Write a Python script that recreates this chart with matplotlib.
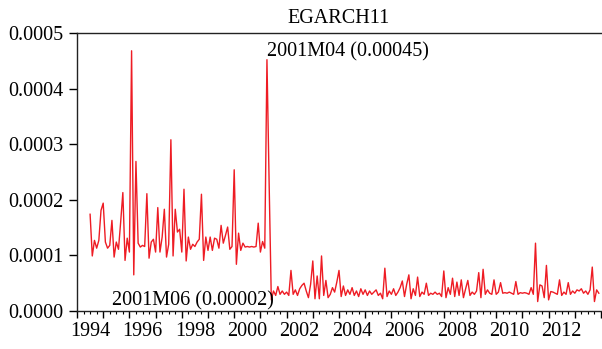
import numpy as np
import matplotlib
matplotlib.use("Agg")
import matplotlib.pyplot as plt
from matplotlib.ticker import FixedLocator, FormatStrFormatter

plt.rcParams["font.family"] = ["Liberation Serif", "DejaVu Serif"]

# monthly conditional variance, 1994M07 .. 2013M12 (units of 1e-4)
start_year, start_month = 1994, 7
egarch = [
    1.74, 0.99, 1.27, 1.13, 1.27, 1.81, 1.94, 1.24, 1.13, 1.18,
    1.63, 0.97, 1.24, 1.11, 1.60, 2.13, 0.91, 1.31, 1.06, 4.68,
    0.65, 2.69, 1.22, 1.15, 1.18, 1.16, 2.11, 0.95, 1.24, 1.29,
    1.06, 1.86, 1.06, 1.33, 1.83, 0.97, 1.20, 3.08, 0.99, 1.83,
    1.42, 1.47, 1.06, 2.19, 0.90, 1.33, 1.11, 1.20, 1.16, 1.24,
    1.29, 2.10, 0.91, 1.33, 1.09, 1.33, 1.09, 1.31, 1.29, 1.13,
    1.54, 1.22, 1.36, 1.51, 1.11, 1.16, 2.54, 0.84, 1.40, 1.09,
    1.22, 1.15, 1.16, 1.15, 1.16, 1.15, 1.16, 1.58, 1.06, 1.25,
    1.13, 4.52, 2.30, 0.20, 0.36, 0.28, 0.44, 0.30, 0.36, 0.30,
    0.34, 0.28, 0.73, 0.30, 0.38, 0.28, 0.40, 0.46, 0.50, 0.36,
    0.24, 0.48, 0.90, 0.22, 0.63, 0.22, 0.99, 0.28, 0.55, 0.24,
    0.30, 0.42, 0.34, 0.52, 0.73, 0.26, 0.45, 0.28, 0.38, 0.30,
    0.42, 0.28, 0.36, 0.26, 0.40, 0.30, 0.38, 0.28, 0.36, 0.30,
    0.34, 0.38, 0.28, 0.32, 0.22, 0.77, 0.26, 0.36, 0.30, 0.40,
    0.28, 0.34, 0.42, 0.54, 0.26, 0.48, 0.65, 0.22, 0.40, 0.28,
    0.61, 0.26, 0.34, 0.30, 0.50, 0.28, 0.32, 0.30, 0.34, 0.30,
    0.32, 0.26, 0.72, 0.24, 0.42, 0.30, 0.59, 0.26, 0.52, 0.28,
    0.56, 0.24, 0.40, 0.55, 0.28, 0.34, 0.30, 0.36, 0.69, 0.24,
    0.75, 0.30, 0.38, 0.32, 0.30, 0.56, 0.30, 0.34, 0.51, 0.32,
    0.33, 0.32, 0.34, 0.32, 0.30, 0.53, 0.30, 0.33, 0.32, 0.33,
    0.32, 0.30, 0.42, 0.30, 1.22, 0.17, 0.47, 0.45, 0.24, 0.82,
    0.20, 0.35, 0.34, 0.32, 0.30, 0.56, 0.28, 0.34, 0.30, 0.51,
    0.30, 0.36, 0.32, 0.38, 0.36, 0.40, 0.32, 0.36, 0.30, 0.38,
    0.79, 0.17, 0.38, 0.32,
]
values = np.array(egarch) * 1e-4
t = start_year + (start_month - 1) / 12 + np.arange(len(values)) / 12

label_years = list(range(1994, 2013, 2))
y_ticks = [0.0, 0.0001, 0.0002, 0.0003, 0.0004, 0.0005]

fig = plt.figure(figsize=(6.02, 3.49), dpi=100)
ax = fig.add_axes([77 / 602, 1 - 311 / 349, 524 / 602, 278 / 349])
ax.plot(t, values, color="#ee1c24", lw=1.0)

ax.set_xlim(1994, 2014)
ax.set_ylim(0, 0.0005)
ax.set_yticks(y_ticks)
ax.yaxis.set_major_formatter(FormatStrFormatter("%.4f"))
ax.tick_params(axis="y", direction="out", length=6, width=1, labelsize=14.5, pad=4)

# year ticks and quarterly minor ticks, labels centred on the year
ax.xaxis.set_major_locator(FixedLocator(np.arange(1994, 2015)))
ax.xaxis.set_minor_locator(FixedLocator(np.arange(1994, 2014.01, 0.25)))
ax.tick_params(axis="x", which="major", direction="out", length=5, width=1, labelbottom=False)
ax.tick_params(axis="x", which="minor", direction="out", length=2.5, width=0.8)
sec = ax.secondary_xaxis("bottom")
sec.set_xticks([y + 0.5 for y in label_years], [str(y) for y in label_years])
sec.tick_params(length=0, labelsize=14.5, pad=8)
sec.spines["bottom"].set_visible(False)

ax.spines["right"].set_visible(False)
for s in ["left", "top", "bottom"]:
    ax.spines[s].set_linewidth(1.0)
    ax.spines[s].set_color("#222222")

ax.set_title("EGARCH11", fontsize=14.5, pad=7)
ax.text(2001.27, 0.000457, "2001M04 (0.00045)", fontsize=14.5, ha="left", va="baseline")
ax.text(2001.52, 0.0000108, "2001M06 (0.00002)", fontsize=14.5, ha="right", va="baseline")

fig.savefig("out.png", dpi=100)
